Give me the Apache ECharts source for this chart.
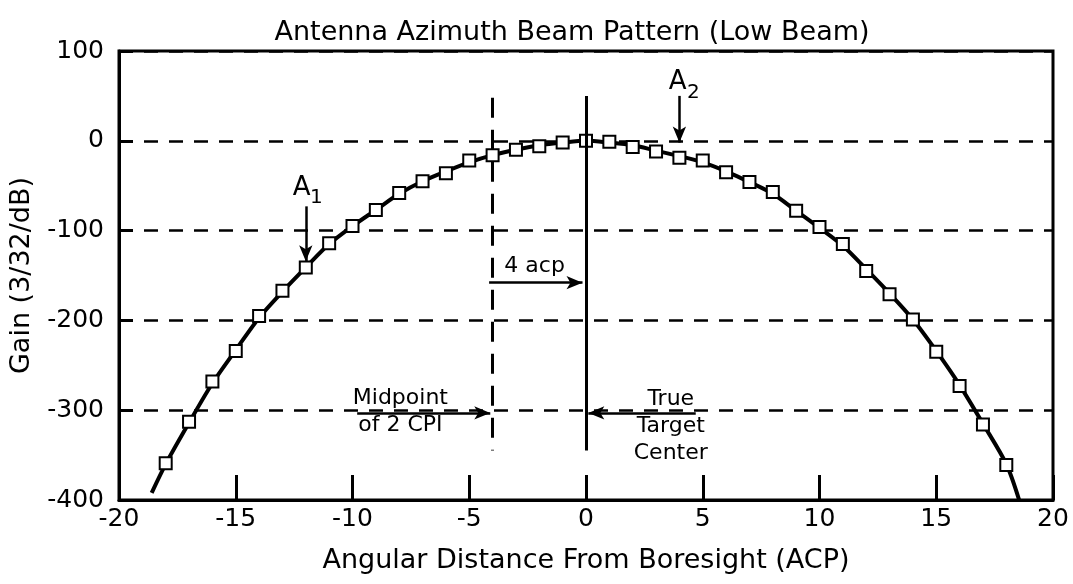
<!DOCTYPE html>
<html>
<head>
<meta charset="utf-8">
<script src="https://cdn.jsdelivr.net/npm/echarts@6/dist/echarts.min.js"></script>
<style>
  html, body { margin: 0; padding: 0; background: #fff; }
  #chart { width: 1073px; height: 584px; }
</style>
</head>
<body>
<div id="chart"></div>
<script>
// measured squares (ACP, gain)
const pointX = [-18, -17, -16, -15, -14, -13, -12, -11, -10, -9, -8, -7, -6, -5, -4, -3, -2, -1,
  0, 1, 2, 3, 4, 5, 6, 7, 8, 9, 10, 11, 12, 13, 14, 15, 16, 17, 18];
const pointGain = [-359, -313, -268, -234, -195, -167, -141, -114, -95, -77, -58, -45, -36, -22, -16, -10, -6, -2,
  0, -1, -7, -12, -19, -22, -35, -46, -57, -78, -96, -115, -145, -171, -199, -235, -273, -316, -361];

// fitted curve
const curveX = [-18.6, -18, -17, -16, -15, -14, -13, -12, -11, -10, -9, -8, -7, -6, -5, -4, -3, -2, -1,
  0, 1, 2, 3, 4, 5, 6, 7, 8, 9, 10, 11, 12, 13, 14, 15, 16, 17, 18, 18.55];
const curveGain = [-392, -360, -314, -270, -233, -197, -168, -141, -115, -95, -77, -59, -45, -34, -24, -16, -10, -5, -2,
  0, -2, -5, -11, -17, -24, -34, -46, -59, -78, -97, -117, -143, -170, -199, -234, -272, -315, -360, -400];

// annotation lines: [x1, y1, x2, y2]
const targetLine = [0, 50, 0, -345];
const midLine = [-4, 48, -4, -345];
const arrows = [
  [-12, -73, -12, -134],      // A1
  [4, 50, 4, -2],             // A2
  [-4.15, -158, -0.15, -158], // 4 acp
  [-9.8, -303, -4.1, -303],   // midpoint
  [4.7, -303, 0.1, -303]      // true target
];
// annotation texts: [x, y, text, size]
const notes = [
  [-12.18, -53, 'A', 26],
  [-11.55, -64, '1', 20],
  [3.93, 65, 'A', 26],
  [4.6, 54, '2', 20],
  [-2.2, -140, '4 acp', 22],
  [-7.95, -302, 'Midpoint\nof 2 CPI', 22],
  [3.63, -318, 'True\nTarget\nCenter', 22]
];

const font = 'DejaVu Sans';
const chart = echarts.init(document.getElementById('chart'));

const lineItems = [
  [{ coord: [targetLine[0], targetLine[1]], symbol: 'none' },
   { coord: [targetLine[2], targetLine[3]], symbol: 'none', lineStyle: { type: 'solid', width: 3, color: '#000' } }],
  [{ coord: [midLine[0], midLine[1]], symbol: 'none' },
   { coord: [midLine[2], midLine[3]], symbol: 'none', lineStyle: { type: [20, 12], width: 3, color: '#000' } }]
].concat(arrows.map(a => [
  { coord: [a[0], a[1]], symbol: 'none' },
  { coord: [a[2], a[3]], symbol: 'arrow', symbolSize: [10, 16], lineStyle: { type: 'solid', width: 2.5, color: '#000' } }
]));

const option = {
  animation: false,
  backgroundColor: '#fff',
  textStyle: { fontFamily: font, color: '#000' },
  title: {
    text: 'Antenna Azimuth Beam Pattern (Low Beam)',
    left: 567,
    textAlign: 'center',
    top: 14,
    textStyle: { fontFamily: font, fontSize: 27, fontWeight: 'normal', color: '#000' }
  },
  grid: {
    left: 119, right: 20, top: 51, bottom: 84,
    show: true, borderColor: '#000', borderWidth: 3
  },
  xAxis: {
    type: 'value',
    min: -20, max: 20, interval: 5,
    name: 'Angular Distance From Boresight (ACP)',
    nameLocation: 'middle',
    nameGap: 47,
    nameTextStyle: { fontFamily: font, fontSize: 27, color: '#000' },
    axisLine: { show: true, onZero: false, lineStyle: { color: '#000', width: 3 } },
    axisTick: { show: true, inside: true, length: 25, lineStyle: { color: '#000', width: 3 } },
    axisLabel: { fontFamily: font, fontSize: 25, color: '#000', margin: 7 },
    splitLine: { show: false }
  },
  yAxis: {
    type: 'value',
    min: -400, max: 100, interval: 100,
    name: 'Gain (3/32/dB)',
    nameLocation: 'middle',
    nameGap: 84,
    nameTextStyle: { fontFamily: font, fontSize: 27, color: '#000' },
    axisLine: { show: true, onZero: false, lineStyle: { color: '#000', width: 3 } },
    axisTick: { show: true, inside: true, length: 14, lineStyle: { color: '#000', width: 3 } },
    axisLabel: { fontFamily: font, fontSize: 25, color: '#000', margin: 15 },
    splitLine: { show: true, lineStyle: { color: '#000', width: 2.5, type: [14, 11] } }
  },
  series: [
    {
      name: 'curve',
      type: 'line',
      data: curveX.map((x, i) => [x, curveGain[i]]),
      smooth: 0.3,
      showSymbol: false,
      lineStyle: { color: '#000', width: 4 },
      z: 3,
      markLine: {
        silent: true,
        label: { show: false },
        lineStyle: { color: '#000' },
        data: lineItems
      }
    },
    {
      name: 'measured',
      type: 'scatter',
      data: pointX.map((x, i) => [x, pointGain[i]]),
      symbol: 'rect',
      symbolSize: 12,
      itemStyle: { color: '#fff', borderColor: '#000', borderWidth: 2, opacity: 1 },
      z: 4
    },
    {
      name: 'notes',
      type: 'scatter',
      symbolSize: 0,
      itemStyle: { color: '#000', opacity: 1 },
      silent: true,
      z: 5,
      data: notes.map(n => ({
        value: [n[0], n[1]],
        label: {
          show: true,
          position: 'inside',
          formatter: n[2],
          fontFamily: font,
          fontSize: n[3],
          lineHeight: 27,
          color: '#000',
          textBorderWidth: 0,
          align: 'center'
        }
      }))
    }
  ]
};

chart.setOption(option);
</script>
</body>
</html>
